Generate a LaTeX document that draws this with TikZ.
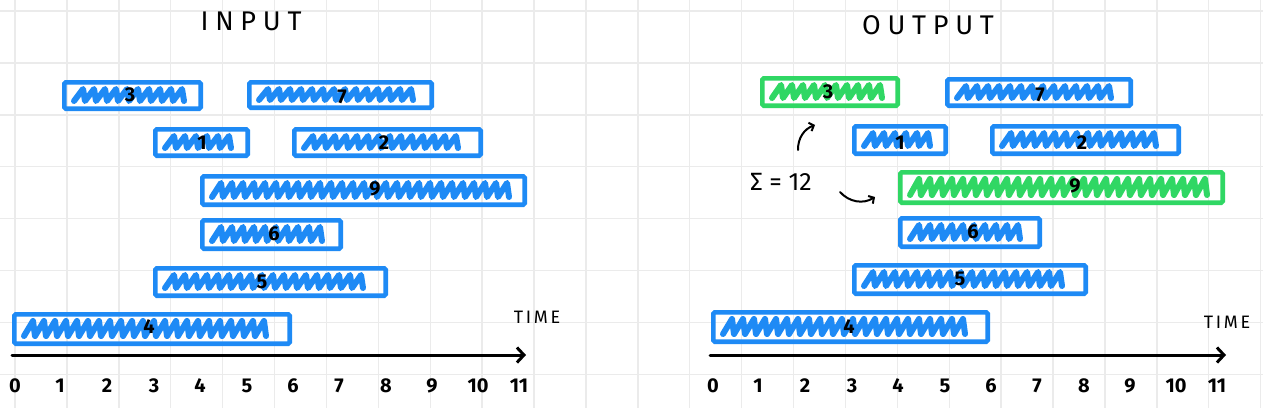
\documentclass[tikz,border=0pt]{standalone}
\usepackage{fontspec}
\setmainfont{Fira Sans}
\usetikzlibrary{arrows.meta}
\definecolor{hblue}{HTML}{1E8AF5}
\definecolor{hgreen}{HTML}{30D764}
\definecolor{gridc}{HTML}{EBEBEB}
\begin{document}
\begin{tikzpicture}[x=1pt,y=-1pt,
  gridline/.style={gridc,line width=1.4pt},
  ibox/.style={draw=#1,line width=4.6pt,rectangle,inner sep=0pt,outer sep=0pt,rounded corners=1.5pt},
  scrib/.style={draw=#1,line width=6pt,line cap=round,line join=round},
  lbl/.style={inner sep=0pt,font=\fontsize{20}{20}\selectfont\bfseries},
  tick/.style={inner sep=0pt,font=\fontsize{20}{20}\selectfont\bfseries},
  ttl/.style={inner sep=0pt,font=\fontsize{27}{27}\selectfont\addfontfeature{LetterSpace=25}},
  timel/.style={inner sep=0pt,font=\fontsize{18}{18}\selectfont\addfontfeature{LetterSpace=15}},
  sig/.style={inner sep=0pt,font=\fontsize{25}{25}\selectfont},
  axisl/.style={black,line width=3pt,line cap=round,-{Straight Barb[length=7pt,width=15pt,line width=3pt]}},
  hand/.style={black,line width=2pt,line cap=round,-{Straight Barb[length=4pt,width=9pt,line width=2pt]}}
]
\fill[white] (0,0) rectangle (1263,408);
\useasboundingbox (0,0) rectangle (1263,408);
% grid
\foreach \i in {0,...,24} \draw[gridline] ({15+51.9*\i},0) -- ({15+51.9*\i},408);
\foreach \j in {0,...,7} \draw[gridline] (0,{11+51.9*\j}) -- (1263,{11+51.9*\j});
% titles
\node[ttl] (tin) at (251,21) {INPUT};
\node[ttl] (tout) at (928,25) {OUTPUT};
% boxes
\foreach \n/\xa/\xb/\ya/\yb/\col/\l/\lx/\ly in {
  L3/62/203/80/111/hblue/3/130/95,
  L7/247/434/80/110/hblue/7/342/97,
  L1/153/250/127/158/hblue/1/202/143,
  L2/292/483/127/158/hblue/2/384/143,
  L9/200/527/174/207/hblue/9/375/189,
  L6/200/343/218/251/hblue/6/274/234,
  L5/153/388/266/298/hblue/5/262/282,
  L4/12/292/312/346/hblue/4/149/327,
  R3/760/900/76/108/hgreen/3/828/92,
  R7/945/1133/77/108/hblue/7/1040/95,
  R1/852/948/124/156/hblue/1/900/143,
  R2/990/1181/124/156/hblue/2/1082/143,
  R9/898/1225/170/205/hgreen/9/1075/186,
  R6/898/1042/216/249/hblue/6/973/232,
  R5/852/1088/263/296/hblue/5/960/279,
  R4/711/990/310/344/hblue/4/849/327}{
  \node[ibox=\col,minimum width={\xb-\xa-4.6},minimum height={\yb-\ya-4.6}] (\n) at ({(\xa+\xb)/2},{(\ya+\yb)/2}) {};
  \pgfmathtruncatemacro\N{(\xb-\xa-28)/11}
  \pgfmathsetmacro\hh{\yb-\ya-19}
  \draw[scrib=\col] ({\xa+12},{\yb-10}) \foreach \k in {1,...,\N} { -- ++(9,-\hh) -- ++(2,\hh) };
  \node[lbl] (lab\n) at (\lx,\ly) {\l};
}
% axes
\coordinate (la0) at (12,355);
\coordinate (la1) at (526,355);
\draw[axisl] (la0) -- (la1);
\coordinate (ra0) at (710,355);
\coordinate (ra1) at (1226,355);
\draw[axisl] (ra0) -- (ra1);
\foreach \k/\x in {0/15,1/60,2/107,3/154,4/200,5/247,6/293,7/339,8/386,9/432,10/478,11/519}{
  \node[tick] (lt\k) at (\x,386) {\k};
  \node[tick] (rt\k) at ({\x+698},386) {\k};
}
\node[timel] (ltime) at (537,317) {TIME};
\node[timel] (rtime) at (1227,322) {TIME};
% annotation
\node[sig] (sum) at (781,182) {Σ = 12};
\coordinate (p1) at (798,150);
\coordinate (p2) at (815,125);
\draw[hand] (p1) to[bend left=35] (p2);
\coordinate (q1) at (840,192);
\coordinate (q2) at (875,197);
\draw[hand] (q1) to[bend right=40] (q2);
\end{tikzpicture}
\end{document}
